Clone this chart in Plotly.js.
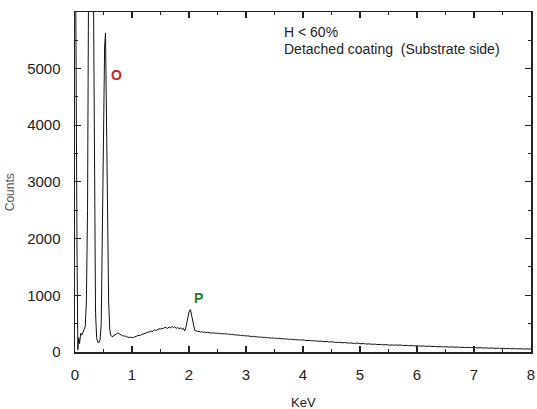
<!DOCTYPE html>
<html>
<head>
<meta charset="utf-8">
<script src="https://cdn.plot.ly/plotly-3.0.1.min.js"></script>
<style>html,body{margin:0;padding:0;background:#fff;}#chart{width:537px;height:409px;}</style>
</head>
<body>
<div id="chart"></div>
<script>
// Low-energy region (zero peak, C and O peaks): energies (keV) and counts
const lowEnergy = [0.00, 0.01, 0.02, 0.035, 0.05, 0.065, 0.08, 0.10, 0.12, 0.14, 0.16, 0.18, 0.20, 0.22, 0.24, 0.26, 0.28, 0.30, 0.32, 0.34, 0.36, 0.38, 0.40, 0.42, 0.44, 0.46, 0.48, 0.50, 0.52, 0.535, 0.55, 0.57, 0.59, 0.61];
const lowCounts = [9000, 6500, 4000, 1800, 40, 250, 150, 330, 300, 360, 380, 450, 900, 2500, 7000, 12000, 15000, 12000, 7000, 2500, 700, 250, 170, 165, 220, 500, 2200, 4300, 5400, 5620, 4300, 2200, 900, 400];

// Continuum + P peak: channels from 0.625 keV to 8.0 keV every 0.025 keV
const contStart = 0.625;
const contStep = 0.025;
const contCounts = [
  300, 268, 285, 298, 310, 335, 322, 300, 292, 280, 284, 270, 262, 255, 262, 250, 258, 266, 272, 285,
  296, 290, 315, 318, 333, 340, 348, 352, 368, 360, 375, 390, 380, 398, 410, 402, 420, 412, 438, 425,
  418, 440, 422, 452, 430, 448, 415, 438, 408, 428, 398, 418, 372, 455, 560, 705, 748, 615, 455, 385,
  372, 360, 365, 350, 358, 345, 352, 340, 348, 338, 342, 332, 340, 330, 335, 325, 332, 322, 328, 318,
  325, 315, 320, 308, 315, 305, 310, 298, 305, 295, 300, 290, 296, 285, 292, 280, 286, 278, 282, 272,
  278, 268, 274, 262, 268, 258, 265, 255, 260, 250, 256, 246, 252, 243, 249, 240, 246, 236, 242, 234,
  238, 230, 235, 226, 232, 222, 228, 218, 224, 215, 220, 212, 218, 208, 214, 205, 210, 202, 207, 199,
  204, 196, 201, 192, 198, 189, 194, 186, 191, 183, 188, 180, 185, 177, 182, 174, 179, 171, 176, 168,
  172, 166, 170, 162, 167, 159, 164, 156, 161, 153, 158, 150, 156, 148, 153, 146, 150, 143, 148, 141,
  146, 139, 143, 136, 141, 134, 138, 131, 136, 129, 134, 127, 131, 125, 129, 122, 127, 120, 124, 118,
  126, 120, 124, 117, 122, 115, 120, 113, 117, 111, 115, 109, 113, 107, 112, 105, 110, 104, 108, 102,
  106, 100, 104, 97, 102, 96, 100, 94, 98, 92, 97, 91, 95, 89, 94, 88, 92, 87, 91, 85,
  90, 84, 88, 82, 87, 81, 85, 80, 84, 78, 82, 77, 81, 76, 80, 74, 79, 73, 77, 72,
  76, 70, 74, 68, 73, 67, 71, 66, 70, 64, 69, 63, 67, 62, 66, 60, 65, 59, 64, 58,
  62, 57, 61, 55, 60, 54, 59, 53, 58, 52, 57, 51, 56, 52, 55, 54
];

const yTickVals = [0, 1000, 2000, 3000, 4000, 5000];
const xTickVals = [0, 1, 2, 3, 4, 5, 6, 7, 8];

const contEnergy = contCounts.map((_, i) => +(contStart + i * contStep).toFixed(3));
const energy = lowEnergy.concat(contEnergy);
const counts = lowCounts.concat(contCounts);

const trace = {
  x: energy, y: counts, type: 'scatter', mode: 'lines',
  line: {color: '#111', width: 1}, hoverinfo: 'skip'
};

const axisCommon = {
  showline: true, linecolor: '#222', linewidth: 1.5, mirror: 'ticks',
  ticks: 'inside', tickcolor: '#222', tickwidth: 1.2, ticklen: 6,
  showgrid: false, zeroline: false,
  tickfont: {size: 15, color: '#222'}
};

const layout = {
  width: 537, height: 409,
  margin: {l: 75, r: 6, t: 12, b: 57, pad: 0},
  paper_bgcolor: '#fff', plot_bgcolor: '#fff',
  showlegend: false,
  font: {family: 'Liberation Sans, Arial, sans-serif', size: 15, color: '#222'},
  xaxis: Object.assign({}, axisCommon, {
    range: [0, 8], tickmode: 'array', tickvals: xTickVals,
    ticklabelstandoff: 8,
    minor: {dtick: 0.5, tick0: 0, ticks: 'inside', ticklen: 3, tickcolor: '#222', tickwidth: 1, showgrid: false}
  }),
  yaxis: Object.assign({}, axisCommon, {
    range: [0, 5995], tickmode: 'array', tickvals: yTickVals,
    ticklabelstandoff: 10,
    minor: {dtick: 500, tick0: 0, ticks: 'inside', ticklen: 3, tickcolor: '#222', tickwidth: 1, showgrid: false}
  }),
  annotations: [
    {xref: 'paper', yref: 'paper', x: 0.4533, y: 0.941, xanchor: 'left', yanchor: 'middle',
     text: 'H &lt; 60%', showarrow: false, font: {size: 14, color: '#222'}},
    {xref: 'paper', yref: 'paper', x: 0.4533, y: 0.891, xanchor: 'left', yanchor: 'middle',
     text: 'Detached coating \u00a0(Substrate side)', showarrow: false, font: {size: 14, color: '#222'}},
    {xref: 'x', yref: 'y', x: 0.73, y: 4890, text: '<b>O</b>', showarrow: false,
     font: {size: 14, color: '#c8242b'}},
    {xref: 'x', yref: 'y', x: 2.16, y: 950, text: '<b>P</b>', showarrow: false,
     font: {size: 14, color: '#2a7d2e'}},
    {xref: 'paper', yref: 'paper', x: 0.5, y: -0.15, xanchor: 'center', yanchor: 'middle',
     text: 'KeV', showarrow: false, font: {size: 13, color: '#222'}},
    {xref: 'paper', yref: 'paper', x: -0.1425, y: 0.47, xanchor: 'center', yanchor: 'middle',
     text: 'Counts', textangle: -90, showarrow: false, font: {size: 12, color: '#555'}}
  ]
};

Plotly.newPlot('chart', [trace], layout, {displayModeBar: false, staticPlot: true});
</script>
</body>
</html>
